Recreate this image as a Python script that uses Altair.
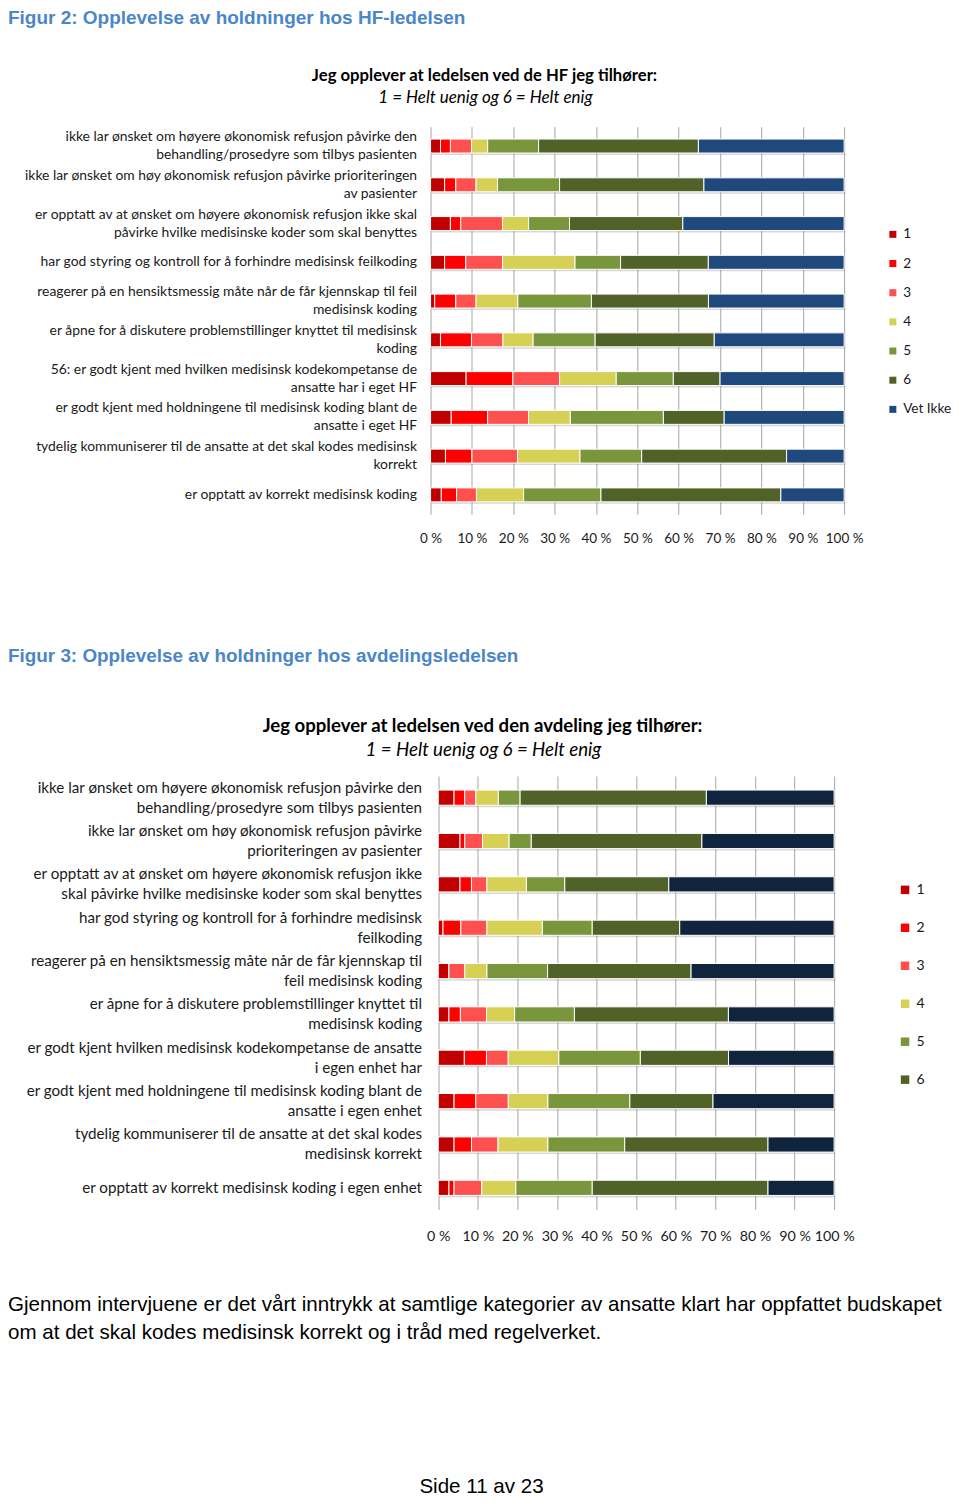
import altair as alt
import pandas as pd

# ---------------- data ----------------
categories = ["1", "2", "3", "4", "5", "6", "Vet Ikke"]

fig2_questions = [
    "ikke lar ønsket om høyere økonomisk refusjon påvirke den|behandling/prosedyre som tilbys pasienten",
    "ikke lar ønsket om høy økonomisk refusjon påvirke prioriteringen|av pasienter",
    "er opptatt av at ønsket om høyere økonomisk refusjon ikke skal|påvirke hvilke medisinske koder som skal benyttes",
    "har god styring og kontroll for å forhindre medisinsk feilkoding",
    "reagerer på en hensiktsmessig måte når de får kjennskap til feil|medisinsk koding",
    "er åpne for å diskutere problemstillinger knyttet til medisinsk|koding",
    "56: er godt kjent med hvilken medisinsk kodekompetanse de|ansatte har i eget HF",
    "er godt kjent med holdningene til medisinsk koding blant de|ansatte i eget HF",
    "tydelig kommuniserer til de ansatte at det skal kodes medisinsk|korrekt",
    "er opptatt av korrekt medisinsk koding",
]
fig2_c1 = [2.4, 3.4, 4.8, 3.4, 1.0, 2.4, 8.6, 5.0, 3.6, 2.6]
fig2_c2 = [2.4, 2.7, 2.5, 5.1, 5.1, 7.5, 11.3, 8.8, 6.4, 3.7]
fig2_c3 = [5.1, 4.9, 10.1, 8.9, 4.9, 7.6, 11.3, 9.9, 11.0, 4.8]
fig2_c4 = [3.9, 5.2, 6.3, 17.5, 10.1, 7.3, 13.7, 10.1, 15.1, 11.4]
fig2_c5 = [12.3, 15.0, 9.9, 11.0, 17.8, 15.0, 13.8, 22.5, 14.9, 18.7]
fig2_c6 = [38.6, 34.9, 27.4, 21.2, 28.3, 28.8, 11.3, 14.7, 35.0, 43.5]
fig2_vet = [35.2, 33.9, 39.0, 32.8, 32.8, 31.4, 30.0, 29.0, 13.9, 15.3]

fig3_questions = [
    "ikke lar ønsket om høyere økonomisk refusjon påvirke den|behandling/prosedyre som tilbys pasienten",
    "ikke lar ønsket om høy økonomisk refusjon  påvirke|prioriteringen av pasienter",
    "er opptatt av at ønsket om høyere økonomisk refusjon ikke|skal påvirke hvilke medisinske koder som skal benyttes",
    "har god styring og kontroll for å forhindre medisinsk|feilkoding",
    "reagerer på en hensiktsmessig måte når de får kjennskap til|feil medisinsk koding",
    "er åpne for å diskutere problemstillinger knyttet til|medisinsk koding",
    "er godt kjent hvilken medisinsk kodekompetanse de ansatte|i egen enhet har",
    "er godt kjent med holdningene til medisinsk koding blant de|ansatte i egen enhet",
    "tydelig kommuniserer til de ansatte at det skal kodes|medisinsk korrekt",
    "er opptatt av korrekt medisinsk koding i egen enhet",
]
fig3_c1 = [4.0, 5.5, 5.5, 1.2, 2.7, 2.7, 6.6, 4.0, 4.0, 2.7]
fig3_c2 = [2.7, 1.2, 2.9, 4.5, 0.0, 2.9, 5.6, 5.5, 4.4, 1.3]
fig3_c3 = [2.8, 4.5, 3.9, 6.6, 4.0, 6.6, 5.5, 8.2, 6.7, 7.0]
fig3_c4 = [5.7, 6.7, 10.0, 14.0, 5.6, 7.1, 12.8, 10.0, 12.6, 8.6]
fig3_c5 = [5.5, 5.6, 9.7, 12.6, 15.3, 15.1, 20.6, 20.7, 19.4, 19.3]
fig3_c6 = [47.1, 43.1, 26.3, 22.1, 36.2, 38.9, 22.3, 21.0, 36.2, 44.4]
fig3_vet = [32.3, 33.4, 41.8, 39.0, 36.1, 26.7, 26.7, 30.6, 16.7, 16.7]

tick_values = [0, 0.1, 0.2, 0.3, 0.4, 0.5, 0.6, 0.7, 0.8, 0.9, 1.0]

heading_fig2 = "Figur 2: Opplevelse av holdninger hos HF-ledelsen"
title_fig2 = "Jeg opplever at ledelsen ved de HF jeg tilhører:"
subtitle_fig2 = "1 = Helt uenig og 6 = Helt enig"
heading_fig3 = "Figur 3: Opplevelse av holdninger hos avdelingsledelsen"
title_fig3 = "Jeg opplever at ledelsen ved den avdeling jeg tilhører:"
subtitle_fig3 = "1 = Helt uenig og 6 = Helt enig"
body_lines = [
    "Gjennom intervjuene er det vårt inntrykk at samtlige kategorier av ansatte klart har oppfattet budskapet",
    "om at det skal kodes medisinsk korrekt og i tråd med regelverket.",
]
footer_text = "Side 11 av 23"

# ---------------- styles / layout ----------------
HEAD_BLUE = "#4A86C8"
colors_fig2 = ["#C00000", "#FF0000", "#FF5050", "#D6D054", "#7A963C", "#506228", "#1F497D"]
colors_fig3 = ["#C00000", "#FF0000", "#FF5050", "#D6D054", "#7A963C", "#506228", "#10243E"]
LEFT = -423          # page left edge, relative to the shared plot origin
CELL_W = 400


def long_df(questions, series):
    rows = []
    for qi, q in enumerate(questions):
        for ci, (cat, vals) in enumerate(zip(categories, series)):
            rows.append({"q": q, "cat": cat, "ci": ci, "v": vals[qi]})
    return pd.DataFrame(rows)


def bar_chart(df, questions, colors, width, height, x_domain, label_size, line_h, label_pad,
              y_extent, tick_size, tick_pad, x_extent, band_inner, legend_values,
              legend_x, legend_y, legend_row_pad, sym_size, legend_font, legend_offset):
    two_line_shift = {
        "condition": {"test": "indexof(datum.value, '|') >= 0", "value": -line_h / 2},
        "value": 0,
    }
    base = alt.Chart(df).encode(
        x=alt.X(
            "v:Q", stack="normalize",
            scale=alt.Scale(domain=x_domain, nice=False, zero=False),
            axis=alt.Axis(
                values=tick_values, labelExpr="round(datum.value*100) + ' %'",
                grid=True, gridColor="#A6A6A6", gridWidth=1, domain=False, ticks=False,
                labelPadding=tick_pad, labelFontSize=tick_size, labelFont="Lato",
                labelColor="#1a1a1a", title=None, minExtent=x_extent, maxExtent=x_extent,
                labelOverlap=False, labelFlush=False,
            ),
        ),
        y=alt.Y(
            "q:N", sort=questions,
            scale=alt.Scale(paddingInner=band_inner, paddingOuter=band_inner / 2),
            axis=alt.Axis(
                title=None, labelExpr="split(datum.label, '|')", labelAlign="right",
                labelBaseline="middle", labelFontSize=label_size, labelLineHeight=line_h,
                labelPadding=label_pad, ticks=False, domain=False, labelLimit=0,
                labelOffset=two_line_shift,
                minExtent=y_extent, maxExtent=y_extent, labelColor="#1a1a1a", labelFont="Lato",
            ),
        ),
        order=alt.Order("ci:Q"),
    )
    shadow = base.mark_bar(yOffset=2, xOffset=1, opacity=0.3, color="#7f7f7f")
    bars = base.mark_bar(stroke="white", strokeWidth=1).encode(
        color=alt.Color(
            "cat:N",
            scale=alt.Scale(domain=categories, range=colors),
            legend=alt.Legend(
                title=None, orient="none", legendX=legend_x, legendY=legend_y,
                values=legend_values, symbolType="square", symbolSize=sym_size,
                symbolStrokeWidth=0, labelFontSize=legend_font, labelFont="Lato",
                labelColor="#1a1a1a", rowPadding=legend_row_pad, labelOffset=legend_offset,
                padding=0,
            ),
        )
    )
    return alt.layer(shadow, bars).properties(width=width, height=height)


def text_layer(text, x, y, size, font="Liberation Sans", weight="normal", style="normal",
               color="#000000", align="left", baseline="middle"):
    return alt.Chart(pd.DataFrame({"t": [text]})).mark_text(
        align=align, baseline=baseline, font=font, fontSize=size,
        fontWeight=weight, fontStyle=style, color=color,
    ).encode(text="t:N", x=alt.value(x), y=alt.value(y))


fig2_df = long_df(fig2_questions, [fig2_c1, fig2_c2, fig2_c3, fig2_c4, fig2_c5, fig2_c6, fig2_vet])
fig3_df = long_df(fig3_questions, [fig3_c1, fig3_c2, fig3_c3, fig3_c4, fig3_c5, fig3_c6, fig3_vet])

row1 = alt.layer(
    text_layer(heading_fig2, LEFT, 9.5, 19, weight="bold", color=HEAD_BLUE),
    text_layer(title_fig2, 54, 67, 16.7, font="Lato", weight="bold", align="center"),
    text_layer(subtitle_fig2, 55, 89, 17, font="Lato", style="italic", align="center"),
).properties(width=CELL_W, height=118)

fig2 = bar_chart(
    fig2_df, fig2_questions, colors_fig2, width=414, height=388, x_domain=[0, 1],
    label_size=13.9, line_h=18, label_pad=14, y_extent=423,
    tick_size=13.5, tick_pad=17, x_extent=40, band_inner=0.64,
    legend_values=categories, legend_x=456, legend_y=101, legend_row_pad=14.2,
    sym_size=49, legend_font=13.6, legend_offset=3.5,
)

row3 = alt.layer(
    text_layer(heading_fig3, LEFT, 102, 18.9, weight="bold", color=HEAD_BLUE),
    text_layer(title_fig3, 52, 172, 18.6, font="Lato", weight="bold", align="center"),
    text_layer(subtitle_fig3, 53, 196, 18.7, font="Lato", style="italic", align="center"),
).properties(width=CELL_W, height=222)

# figure 3's plot starts ~8px right of figure 2's: leave an empty strip left of 0 %
fig3 = bar_chart(
    fig3_df, fig3_questions, colors_fig3, width=404, height=434, x_domain=[-0.0194, 1],
    label_size=15.2, line_h=20, label_pad=9, y_extent=300,
    tick_size=14.3, tick_pad=20, x_extent=40, band_inner=0.65,
    legend_values=categories[:6], legend_x=468, legend_y=107, legend_row_pad=24,
    sym_size=72, legend_font=14, legend_offset=4.5,
)

row5 = alt.layer(
    text_layer(body_lines[0], LEFT, 56, 20.6),
    text_layer(body_lines[1], LEFT, 84, 20.6),
    text_layer(footer_text, 51, 238, 20.6, align="center"),
).properties(width=CELL_W, height=246)

chart = alt.vconcat(row1, fig2, row3, fig3, row5, spacing=0).properties(
    padding=0
).configure_view(stroke=None).resolve_scale(color="independent", x="independent", y="independent")

chart.save("out.html", embed_options={"renderer": "svg", "actions": False})
